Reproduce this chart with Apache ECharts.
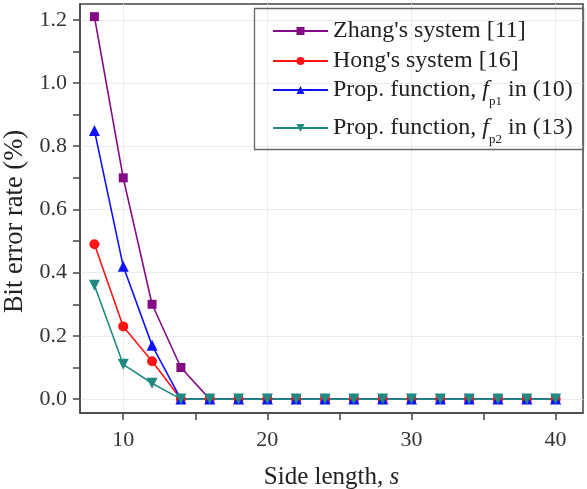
<!DOCTYPE html>
<html>
<head>
<meta charset="utf-8">
<script src="https://cdn.jsdelivr.net/npm/echarts@6/dist/echarts.min.js"></script>
<style>html,body{margin:0;padding:0;background:#fff;}#c{width:587px;height:489px;}</style>
</head>
<body>
<div id="c"></div>
<script>
const sideLength = [8,10,12,14,16,18,20,22,24,26,28,30,32,34,36,38,40];
const zhang = [1.21,0.70,0.30,0.10,0,0,0,0,0,0,0,0,0,0,0,0,0];
const hong  = [0.49,0.23,0.12,0,0,0,0,0,0,0,0,0,0,0,0,0,0];
const fp1   = [0.85,0.42,0.17,0,0,0,0,0,0,0,0,0,0,0,0,0,0];
const fp2   = [0.36,0.11,0.05,0,0,0,0,0,0,0,0,0,0,0,0,0,0];
const xLabels = [10,20,30,40];
const xTicks = [10,15,20,25,30,35,40];
const yLabels = [0,0.2,0.4,0.6,0.8,1.0,1.2];
const yTicks = [0,0.1,0.2,0.3,0.4,0.5,0.6,0.7,0.8,0.9,1.0,1.1,1.2];
const names = ["Zhang's system [11]","Hong's system [16]","Prop. function, f_p1 in (10)","Prop. function, f_p2 in (13)"];

const FONT = 'Liberation Serif';
const TXT = '#222';
const pair = a => a.map((v,i)=>[sideLength[i], v]);
const downTri = 'path://M0,0 L10,0 L5,8.66 Z';

const rich = {
  t: {fontFamily: FONT, fontSize: 24, color: TXT},
  f: {fontFamily: FONT, fontSize: 24, color: TXT, fontStyle: 'italic'},
  s: {fontFamily: FONT, fontSize: 13, color: TXT, padding: [24, 0, 0, 0]}
};
function fmt(name){
  const m = name.match(/^(.*), f_(p\d) (.*)$/);
  if (!m) return '{t|' + name + '}';
  return '{t|' + m[1] + ', }{f|f}{s|' + m[2] + '}{t| ' + m[3] + '}';
}
function legendAt(top, idx){
  return {
    orient: 'vertical', left: 272, top: top, padding: 0,
    itemWidth: 55, itemHeight: 10,
    textStyle: {fontFamily: FONT, fontSize: 24, color: TXT, rich: rich},
    formatter: fmt, selectedMode: false, data: [names[idx]]
  };
}

const option = {
  animation: false,
  backgroundColor: '#fff',
  textStyle: {fontFamily: FONT},
  grid: {left: 80, right: 4, top: 4, bottom: 76, containLabel: false, outerBoundsMode: 'none',
    show: true, borderColor: '#444', borderWidth: 1.5},
  xAxis: [{
    type: 'value', min: 7, max: 41.9,
    name: 'Side length, {i|s}', nameLocation: 'middle', nameGap: 52,
    nameTextStyle: {fontFamily: FONT, fontSize: 25, color: TXT, rich: {i: {fontFamily: FONT, fontSize: 25, fontStyle: 'italic', color: TXT}}},
    axisLine: {show: true, onZero: false, lineStyle: {color: '#444', width: 1.5}},
    axisTick: {show: true, length: 7, customValues: xTicks, lineStyle: {color: '#444', width: 1.5}},
    axisLabel: {customValues: xLabels, margin: 16, fontFamily: FONT, fontSize: 22, color: '#333'},
    splitLine: {show: false}
  }, {
    type: 'value', min: 7, max: 41.9, position: 'bottom',
    axisLine: {show: false}, axisTick: {show: false, customValues: xLabels},
    axisLabel: {show: false, customValues: xLabels},
    splitLine: {show: true, lineStyle: {color: '#ebebeb', width: 1}}
  }],
  yAxis: [{
    type: 'value', min: -0.044, max: 1.25,
    name: 'Bit error rate (%)', nameLocation: 'middle', nameGap: 51,
    nameTextStyle: {fontFamily: FONT, fontSize: 26.5, color: TXT, padding: [0, 26, 0, 0]},
    axisLine: {show: true, onZero: false, lineStyle: {color: '#444', width: 1.5}},
    axisTick: {show: true, length: 7, customValues: yTicks, lineStyle: {color: '#444', width: 1.5}},
    axisLabel: {customValues: yLabels, margin: 13, fontFamily: FONT, fontSize: 22, color: '#333',
      formatter: v => v.toFixed(1)},
    splitLine: {show: false}
  }, {
    type: 'value', min: -0.044, max: 1.25, position: 'left',
    axisLine: {show: false}, axisTick: {show: false, customValues: yLabels},
    axisLabel: {show: false, customValues: yLabels},
    splitLine: {show: true, lineStyle: {color: '#ebebeb', width: 1}}
  }],
  legend: [legendAt(19, 0), legendAt(49, 1), legendAt(78, 2), legendAt(116, 3)],
  graphic: [{
    type: 'rect', left: 252, top: 6, z: 100,
    shape: {width: 329, height: 141},
    style: {fill: 'none', stroke: '#666', lineWidth: 1.3}
  }],
  series: [
    {name: names[0], type: 'line', data: pair(zhang), color: '#850a85', symbol: 'rect', symbolSize: 9, lineStyle: {width: 1.6}},
    {name: names[1], type: 'line', data: pair(hong), color: '#ff1414', symbol: 'circle', symbolSize: 10, lineStyle: {width: 1.6}},
    {name: names[2], type: 'line', data: pair(fp1), color: '#1010ff', symbol: 'triangle', symbolSize: 11, lineStyle: {width: 1.6}},
    {name: names[3], type: 'line', data: pair(fp2), color: '#1f8a82', symbol: downTri, symbolSize: 11, lineStyle: {width: 1.6}}
  ]
};
const chart = echarts.init(document.getElementById('c'), null, {renderer: 'canvas'});
chart.setOption(option);
</script>
</body>
</html>
